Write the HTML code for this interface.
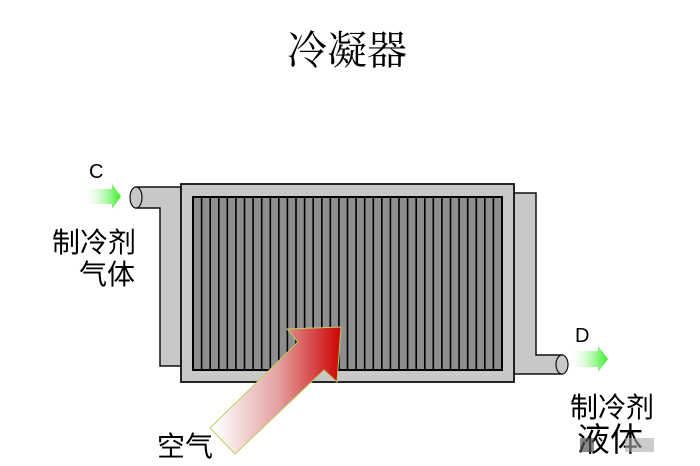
<!DOCTYPE html>
<html><head><meta charset="utf-8"><style>
html,body{margin:0;padding:0;background:#fff;width:700px;height:466px;overflow:hidden}
</style></head><body>
<svg width="700" height="466" viewBox="0 0 700 466" xmlns="http://www.w3.org/2000/svg">
<defs>
<linearGradient id="g" x1="0" y1="0" x2="1" y2="0">
<stop offset="0" stop-color="#fff" stop-opacity="0.2"/><stop offset="1" stop-color="#33ee22"/></linearGradient>
<linearGradient id="r" x1="215" y1="0" x2="342" y2="0" gradientUnits="userSpaceOnUse">
<stop offset="0" stop-color="#fff"/><stop offset="0.5" stop-color="#e4a0a0"/><stop offset="1" stop-color="#cc0000"/></linearGradient>
</defs>
<text x="347" y="64" font-family="'Liberation Serif','Noto Serif CJK SC',serif" font-size="40" text-anchor="middle">冷凝器</text>
<path d="M136,187 L181,187 L181,366 L160,366 L160,208 L136,208 Z" fill="#c8c8c8" stroke="#111" stroke-width="1.5"/>
<ellipse cx="136" cy="197.5" rx="6" ry="10.5" fill="#c8c8c8" stroke="#111" stroke-width="1.2"/>
<path d="M514,193 L536,193 L536,355 L562,355 L562,374 L514,374 Z" fill="#c8c8c8" stroke="#111" stroke-width="1.5"/>
<ellipse cx="562" cy="364.5" rx="6" ry="9.5" fill="#c8c8c8" stroke="#111" stroke-width="1.2"/>
<rect x="181" y="184" width="333" height="198" fill="#c8c8c8" stroke="#111" stroke-width="1.8"/>
<rect x="193" y="197" width="309" height="173" fill="#8e8e8e" stroke="#000" stroke-width="2"/>
<path id="finpath" d="" stroke="#000" stroke-width="1.6"/>
<polygon points="210,428 298,342 287,329 341,327 337,382 324,370 235,454" fill="url(#r)" stroke="#b8d060" stroke-width="1"/>
<polygon points="85,189 112,189 112,184 121,196.5 112,209 112,204 85,204" fill="url(#g)"/>
<polygon points="571,351 598,351 598,346 608,359 598,372 598,367 571,367" fill="url(#g)"/>
<g font-family="'Liberation Sans','Noto Sans CJK SC',sans-serif" fill="#000">
<text x="89" y="178" font-size="20">C</text>
<text x="575" y="342" font-size="20">D</text>
<text x="52" y="252" font-size="28">制冷剂</text>
<text x="79" y="284" font-size="28">气体</text>
<text x="570" y="417" font-size="28">制冷剂</text>
<text x="577" y="451" font-size="33">液体</text>
<text x="157" y="456" font-size="28">空气</text>
</g>
<rect x="580" y="438" width="14" height="14" fill="#555" opacity="0.7"/>
<rect x="625" y="438" width="29" height="14" fill="#aaa" opacity="0.6"/>
</svg>
<script>
var p="";for(var i=1;i<36;i++){var x=(193+i*309/36).toFixed(1);p+="M"+x+",197V370";}
document.getElementById("finpath").setAttribute("d",p);
</script>
</body></html>
